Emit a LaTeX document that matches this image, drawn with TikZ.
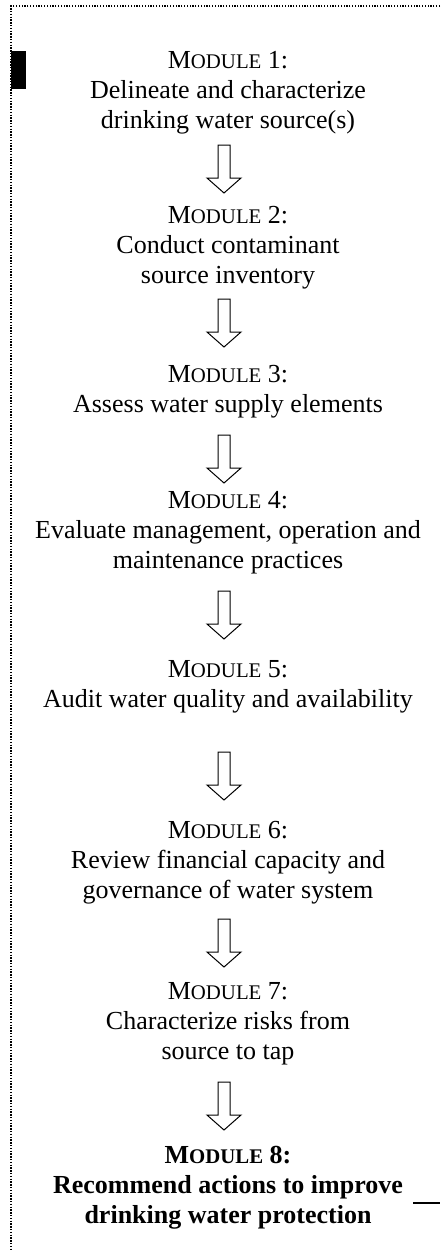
\documentclass[tikz,border=0pt]{standalone}
\usepackage{fontspec}
\setmainfont{Liberation Serif}
\newcommand{\modhead}[1]{M{\fontsize{20.8}{30}\selectfont ODULE} #1:}

\begin{document}
\begin{tikzpicture}[x=1pt,y=1pt,
    every node/.style={inner sep=0pt,align=center,anchor=base,font=\fontsize{26}{30}\selectfont},
    downarrow/.pic={\draw[line width=1pt] (-6,0) -- (6,0) -- (6,-33) -- (17,-33) -- (0,-48) -- (-17,-33) -- (-6,-33) -- cycle;}]
    \useasboundingbox (0,0) rectangle (440,-1251);
    % frame
    \draw[line width=1.2pt,dash pattern=on 1.3pt off 1.5pt] (440,-6) -- (11,-6) -- (11,-1251);
    \fill (11,-51) rectangle (26,-89);
    % modules (anchored at the last line)
    \node (m1) at (228,-128) {\modhead{1}\\Delineate and characterize\\drinking water source(s)};
    \node (m2) at (228,-283) {\modhead{2}\\Conduct contaminant\\source inventory};
    \node (m3) at (228,-412) {\modhead{3}\\Assess water supply elements};
    \node (m4) at (228,-568) {\modhead{4}\\Evaluate management, operation and\\maintenance practices};
    \node (m5) at (228,-707) {\modhead{5}\\Audit water quality and availability};
    \node (m6) at (228,-898) {\modhead{6}\\Review financial capacity and\\governance of water system};
    \node (m7) at (228,-1059) {\modhead{7}\\Characterize risks from\\source to tap};
    \node[font=\fontsize{26}{30}\selectfont\bfseries] (m8) at (228,-1223) {\modhead{8}\\Recommend actions to improve\\drinking water protection};
    \draw[line width=1.3pt] (413,-1203) -- (440,-1203);
    % arrows
    \pic (a1) at (224,-145) {downarrow};
    \pic (a2) at (224,-299) {downarrow};
    \pic (a3) at (224,-435) {downarrow};
    \pic (a4) at (224,-591) {downarrow};
    \pic (a5) at (224,-752) {downarrow};
    \pic (a6) at (224,-919) {downarrow};
    \pic (a7) at (224,-1082) {downarrow};
\end{tikzpicture}
\end{document}
